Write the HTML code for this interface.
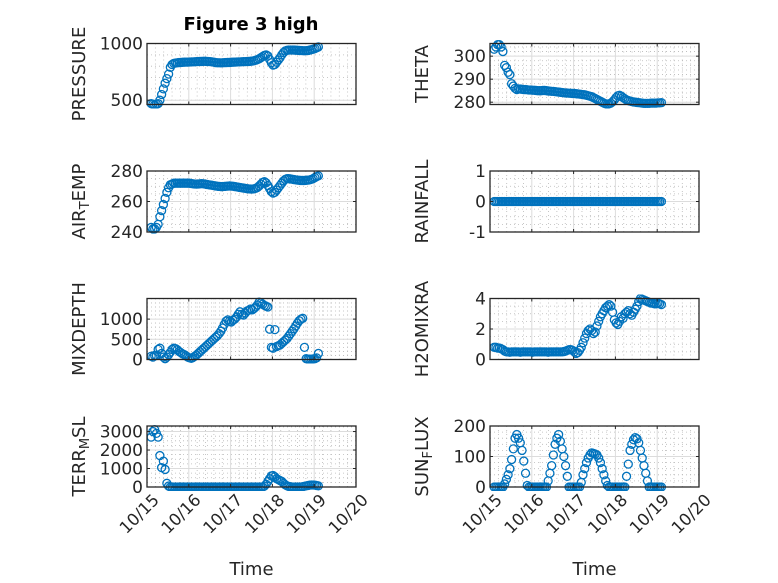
<!DOCTYPE html>
<html><head><meta charset="utf-8"><style>
html,body{margin:0;padding:0;background:#fff;}
svg{display:block;font-family:"DejaVu Sans","Liberation Sans",sans-serif;}
</style></head><body>
<svg id="fig" width="778" height="583" viewBox="0 0 778 583" xmlns="http://www.w3.org/2000/svg">
<rect x="0" y="0" width="778" height="583" fill="#fff"/>
<text x="251" y="30" text-anchor="middle" font-size="18" font-weight="bold" fill="#000">Figure 3 high</text>
</svg>
<script>
// time in days after 10/15 00:00 (hourly samples)
const hours = [0,1,2,3,4,5,6,7,8,9,10,11,12,13,14,15,16,17,18,19,20,21,22,23,24,25,26,27,28,29,30,31,32,33,34,35,36,37,38,39,40,41,42,43,44,45,46,47,48,49,50,51,52,53,54,55,56,57,58,59,60,61,62,63,64,65,66,67,68,69,70,71,72,73,74,75,76,77,78,79,80,81,82,83,84,85,86,87,88,89,90,91,92,93,94,95,96];
const startDay = 0.1;
const xTickLabels = ["10/15","10/16","10/17","10/18","10/19","10/20"];

const pressure = [470,465,460,465,470,500,550,600,650,690,730,790,815,825,828,830,832,833,834,835,836,836,837,838,838,839,840,841,842,842,843,843,842,841,840,838,835,832,830,830,829,830,831,832,833,833,834,835,836,837,838,838,839,840,840,841,842,843,845,848,852,858,865,875,885,895,900,890,860,830,810,815,835,855,875,900,920,935,940,942,943,943,942,941,940,939,938,937,936,937,938,942,946,950,955,962,970];
const theta = [303,304,305,305,304,302,296,295,293,292,288,287,286,285.5,285.8,285.7,285.6,285.5,285.5,285.4,285.3,285.3,285.2,285.2,285.1,285.0,285.0,285.0,285.1,285.1,285.0,284.9,284.8,284.7,284.7,284.6,284.5,284.4,284.3,284.2,284.1,284.0,284.0,283.9,283.9,283.8,283.8,283.7,283.6,283.5,283.4,283.3,283.2,283.0,282.8,282.6,282.4,282.0,281.6,281.2,280.8,280.4,280.0,279.6,279.3,279.2,279.3,279.6,280.2,281.0,282.0,282.8,283.0,282.6,282.0,281.5,281.0,280.7,280.5,280.3,280.1,280.0,279.9,279.8,279.7,279.6,279.5,279.5,279.5,279.5,279.6,279.6,279.6,279.6,279.7,279.7,279.8];
const airTemp = [243,242,242,243,245,250,254,258,262,266,269,271,271.5,272,272,272,272,272,272,272,272,272,272,271.8,271.6,271.5,271.4,271.5,271.6,271.7,271.6,271.4,271.2,271.0,270.8,270.6,270.4,270.2,270.0,269.9,269.8,269.8,269.9,270.0,270.1,270.2,270.1,270.0,269.8,269.6,269.4,269.2,269.0,268.8,268.6,268.4,268.3,268.2,268.2,268.3,268.6,269.2,270.2,271.4,272.5,273,272.2,270.5,268.5,266.5,265.5,266.0,267.5,269,270.5,272,273.5,274.5,275,275,274.8,274.6,274.4,274.2,274.0,273.9,273.8,273.8,273.8,273.9,274.0,274.2,274.5,275,275.7,276.3,276.8];
const rainfall = [0,0,0,0,0,0,0,0,0,0,0,0,0,0,0,0,0,0,0,0,0,0,0,0,0,0,0,0,0,0,0,0,0,0,0,0,0,0,0,0,0,0,0,0,0,0,0,0,0,0,0,0,0,0,0,0,0,0,0,0,0,0,0,0,0,0,0,0,0,0,0,0,0,0,0,0,0,0,0,0,0,0,0,0,0,0,0,0,0,0,0,0,0,0,0,0,0];
const mixDepth = [80,60,100,100,250,280,150,60,20,60,120,180,250,280,270,240,200,170,140,120,90,60,40,30,50,80,110,150,190,230,270,310,350,390,430,470,510,550,590,640,700,780,870,950,980,950,930,970,1000,1050,1120,1180,1120,1100,1150,1200,1220,1250,1230,1260,1300,1350,1420,1400,1370,1340,1320,1300,750,300,280,740,320,340,360,400,440,480,520,580,640,700,760,830,900,960,1000,1020,300,20,10,10,10,15,20,40,150];
const h2oMix = [0.8,0.8,0.75,0.75,0.7,0.65,0.55,0.5,0.5,0.48,0.5,0.5,0.5,0.5,0.5,0.48,0.5,0.5,0.5,0.5,0.5,0.5,0.48,0.5,0.5,0.5,0.5,0.5,0.5,0.5,0.5,0.48,0.5,0.5,0.5,0.5,0.5,0.5,0.5,0.5,0.52,0.55,0.6,0.65,0.65,0.6,0.5,0.4,0.45,0.6,0.8,1.1,1.4,1.7,1.9,2.0,1.9,1.7,1.8,2.2,2.5,2.8,3.0,3.2,3.4,3.5,3.6,3.5,3.1,2.6,2.4,2.3,2.5,2.8,2.7,3.0,3.1,3.2,3.0,2.9,3.1,3.3,3.5,3.8,4.0,3.95,3.9,3.85,3.8,3.75,3.7,3.7,3.65,3.65,3.7,3.65,3.6];
const terrMsl = [2700,3000,3100,2900,2700,1700,1050,1400,950,200,50,0,0,0,0,0,0,0,0,0,0,0,0,0,0,0,0,0,0,0,0,0,0,0,0,0,0,0,0,0,0,0,0,0,0,0,0,0,0,0,0,0,0,0,0,0,0,0,0,0,0,0,0,0,0,50,150,300,450,600,620,550,450,400,350,300,200,120,60,30,10,0,0,0,0,0,0,20,40,60,80,100,110,110,100,80,60];
const sunFlux = [0,0,0,0,0,0,10,25,40,60,90,125,160,172,160,145,120,85,45,5,0,0,0,0,0,0,0,0,0,0,0,20,45,70,105,140,160,172,150,125,100,70,35,0,0,0,0,0,0,0,15,40,60,80,95,105,112,110,108,105,95,80,60,40,20,5,0,0,0,0,0,0,0,0,0,0,35,75,120,140,155,162,158,145,120,95,70,45,20,0,0,0,0,0,0,0,0];

const NS = "http://www.w3.org/2000/svg";
const svg = document.getElementById("fig");
function mk(tag, attrs, parent){ const e=document.createElementNS(NS,tag); for(const k in attrs) e.setAttribute(k,attrs[k]); (parent||svg).appendChild(e); return e; }

const colX = [147, 490];
const W = 209, H = 61;
const rowY = [43.5, 171, 298.5, 426];
const xMin = 0, xMax = 5;

const panels = [
 {name:"pressure", label:["PRESSURE"], data:pressure, col:0,row:0, ymin:462, ymax:1000, ticks:[500,1000], minor:100},
 {name:"theta", label:["THETA"], data:theta, col:1,row:0, ymin:279, ymax:305.5, ticks:[280,290,300], minor:2},
 {name:"air-temp", label:["AIR","T","EMP"], data:airTemp, col:0,row:1, ymin:240, ymax:280, ticks:[240,260,280], minor:5},
 {name:"rainfall", label:["RAINFALL"], data:rainfall, col:1,row:1, ymin:-1, ymax:1, ticks:[-1,0,1], minor:0.25},
 {name:"mixdepth", label:["MIXDEPTH"], data:mixDepth, col:0,row:2, ymin:0, ymax:1510, ticks:[0,500,1000], minor:100},
 {name:"h2omixra", label:["H2OMIXRA"], data:h2oMix, col:1,row:2, ymin:0, ymax:4, ticks:[0,2,4], minor:0.5},
 {name:"terr-msl", label:["TERR","M","SL"], data:terrMsl, col:0,row:3, ymin:0, ymax:3300, ticks:[0,1000,2000,3000], minor:250},
 {name:"sun-flux", label:["SUN","F","LUX"], data:sunFlux, col:1,row:3, ymin:0, ymax:200, ticks:[0,100,200], minor:20}
];

panels.forEach(p=>{
  const x0 = colX[p.col], y0 = rowY[p.row];
  const xs = t => x0 + (t - xMin)/(xMax - xMin)*W;
  const ys = v => y0 + H - (v - p.ymin)/(p.ymax - p.ymin)*H;
  const g = mk("g",{});
  
  
  const clipId = "clip-"+p.name;
  const cp = mk("clipPath",{id:clipId},g);
  mk("rect",{x:x0-4,y:y0-4,width:W+8,height:H+8},cp);
  for(let d=0; d<5; d++) for(let k=1;k<5;k++){
    const x = xs(d + k/5);
    mk("line",{x1:x,x2:x,y1:y0,y2:y0+H,stroke:"#b8b8b8","stroke-width":0.8,"stroke-dasharray":"1,3"},g);
  }
  const nMin = Math.round((p.ymax-p.ymin)/p.minor)+2;
  let v0 = Math.ceil(p.ymin/p.minor)*p.minor;
  for(let i=0;i<nMin;i++){
    const v = v0 + i*p.minor;
    if(v > p.ymax+1e-9) break;
    const y = ys(v);
    mk("line",{x1:x0,x2:x0+W,y1:y,y2:y,stroke:"#b8b8b8","stroke-width":0.8,"stroke-dasharray":"1,3"},g);
  }
  for(let d=1; d<5; d++){ const x=xs(d); mk("line",{x1:x,x2:x,y1:y0,y2:y0+H,stroke:"#dcdcdc","stroke-width":1},g); }
  p.ticks.forEach(v=>{ const y=ys(v); mk("line",{x1:x0,x2:x0+W,y1:y,y2:y,stroke:"#dcdcdc","stroke-width":1},g); });
  const dg = mk("g",{"clip-path":"url(#"+clipId+")"},g);
  
  
  p.data.forEach((v,i)=>{
    const c = mk("circle",{cx:xs(startDay + hours[i]/24), cy:ys(v), r:4, fill:"none", stroke:"#0072BD","stroke-width":1.3},dg);
    
    
  });
  for(let d=0; d<=5; d++){ const x=xs(d);
    mk("line",{x1:x,x2:x,y1:y0+H,y2:y0+H-3,stroke:"#262626","stroke-width":1},g);
    mk("line",{x1:x,x2:x,y1:y0,y2:y0+3,stroke:"#262626","stroke-width":1},g);
  }
  p.ticks.forEach(v=>{ const y=ys(v);
    mk("line",{x1:x0,x2:x0+3,y1:y,y2:y,stroke:"#262626","stroke-width":1},g);
    mk("line",{x1:x0+W,x2:x0+W-3,y1:y,y2:y,stroke:"#262626","stroke-width":1},g);
    const t = mk("text",{x:x0-4,y:y+6,"text-anchor":"end","font-size":17,fill:"#262626"},g);
    t.textContent = String(v);
    
    
  });
  const fr = mk("rect",{x:x0,y:y0,width:W,height:H,fill:"none",stroke:"#262626","stroke-width":1.3},g);
  
  
  const lx = x0 - 62, ly = y0 + H/2;
  const yl = mk("text",{x:lx,y:ly,transform:"rotate(-90 "+lx+" "+ly+")","text-anchor":"middle","font-size":18,fill:"#262626"},g);
  
  
  if(p.label.length===1){ yl.textContent = p.label[0]; }
  else {
    const a = mk("tspan",{},yl); a.textContent = p.label[0];
    const b = mk("tspan",{dy:4,"font-size":13},yl); b.textContent = p.label[1];
    const c = mk("tspan",{dy:-4},yl); c.textContent = p.label[2];
  }
  if(p.row===3){
    xTickLabels.forEach((lab,d)=>{
      const x = xs(d)+13, y = y0+H+14;
      const t = mk("text",{x:x,y:y,transform:"rotate(-45 "+x+" "+y+")","text-anchor":"end","font-size":16.5,fill:"#262626"},g);
      t.textContent = lab;
      
      
    });
    const xt = mk("text",{x:x0+W/2,y:575,"text-anchor":"middle","font-size":18,fill:"#262626"},g);
    xt.textContent = "Time";
    
    
  }
});
</script>
</body></html>
